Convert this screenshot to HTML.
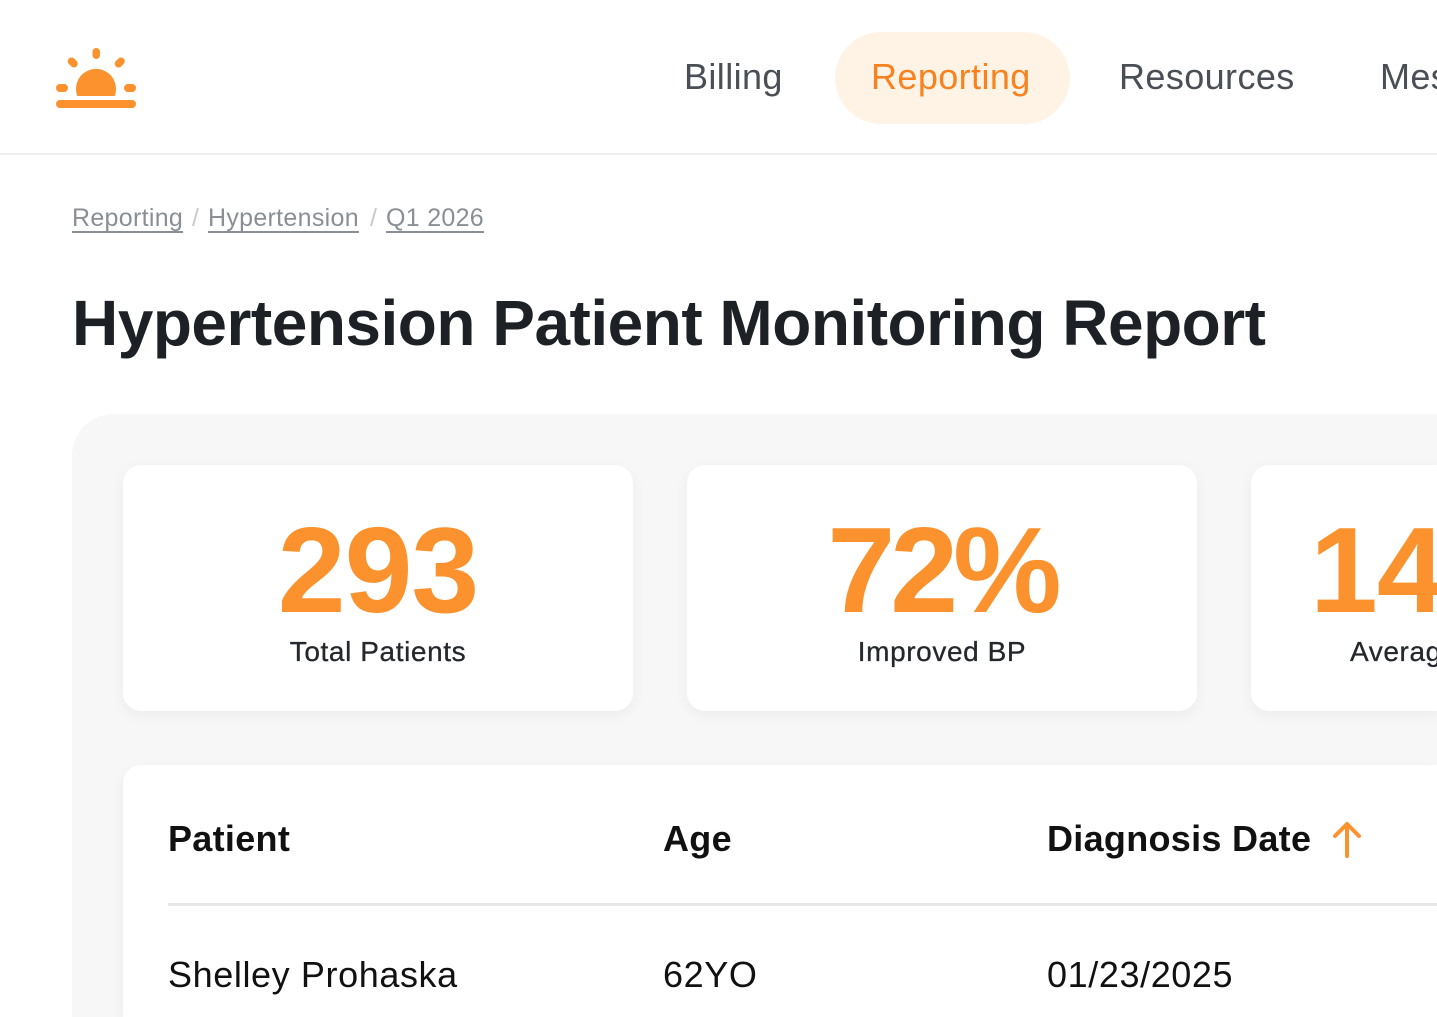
<!DOCTYPE html>
<html style="width:1437px;height:1017px;overflow:hidden"><head><style>
*{margin:0;padding:0;box-sizing:border-box}
body{width:1437px;height:1017px;overflow:hidden;background:#fff;font-family:"Liberation Sans",sans-serif;position:relative;color:#1f2226}
#w{position:absolute;left:0;top:0;width:1437px;height:1017px;overflow:hidden}
.a{position:absolute;white-space:nowrap}
.nav{font-size:36px;color:#4a4f55;top:56px;letter-spacing:0.4px}
.num{font-size:122px;font-weight:bold;color:#fb922d;letter-spacing:-1px;top:500px;width:510px;text-align:center}
.lab{font-size:28px;color:#24272b;top:636px;width:510px;text-align:center;letter-spacing:0.6px;-webkit-text-stroke:0.3px #24272b}
.card{position:absolute;top:465px;width:510px;height:246px;background:#fff;border-radius:18px;box-shadow:0 4px 14px rgba(0,0,0,0.05)}
.th{font-size:36px;font-weight:bold;top:818px;color:#111;letter-spacing:0.3px}
.td{font-size:36px;top:954px;color:#111;letter-spacing:0.6px}
.bc{font-size:25px;color:#8a8f95;text-decoration:underline;text-underline-offset:5px;top:204px;letter-spacing:0.3px}
</style></head><body><div id="w">
<svg class="a" style="left:54px;top:46px" width="84" height="64" viewBox="0 0 84 64">
<g fill="#fb922d">
<rect x="38.5" y="2" width="7.5" height="11" rx="3.7"/>
<rect x="15" y="11" width="7.5" height="11" rx="3.7" transform="rotate(-45 18.7 16.5)"/>
<rect x="62" y="11" width="7.5" height="11" rx="3.7" transform="rotate(45 65.7 16.5)"/>
<rect x="2" y="38" width="12" height="8" rx="4"/>
<rect x="70" y="38" width="12" height="8" rx="4"/>
<path d="M23.3 50 A20 20 0 1 1 60.7 50 Z"/>
<rect x="2" y="54" width="80" height="8" rx="4"/>
</g></svg>
<div class="a nav" style="left:684px">Billing</div>
<div class="a" style="left:835px;top:32px;width:235px;height:92px;border-radius:46px;background:#fff3e5"></div>
<div class="a nav" style="left:871px;color:#f7821f">Reporting</div>
<div class="a nav" style="left:1119px">Resources</div>
<div class="a nav" style="left:1380px">Messages</div>
<div class="a" style="left:0;top:153px;width:1437px;height:2px;background:#eeeff0"></div>
<div class="a bc" style="left:72px">Reporting</div>
<div class="a" style="left:192px;top:204px;font-size:25px;color:#c8cacd">/</div>
<div class="a bc" style="left:208px">Hypertension</div>
<div class="a" style="left:370px;top:204px;font-size:25px;color:#c8cacd">/</div>
<div class="a bc" style="left:386px">Q1 2026</div>
<div class="a" style="left:72px;top:286px;font-size:64px;font-weight:bold;color:#1d2024;letter-spacing:-0.5px">Hypertension Patient Monitoring Report</div>
<div class="a" style="left:72px;top:414px;width:1365px;height:603px;border-radius:42px 0 0 0;background:#f7f7f8"></div>
<div class="card" style="left:123px"></div>
<div class="card" style="left:687px"></div>
<div class="card" style="left:1251px;width:186px;border-radius:18px 0 0 18px"></div>
<div class="a num" style="left:123px">293</div>
<div class="a lab" style="left:123px">Total Patients</div>
<div class="a num" style="left:687px;letter-spacing:-5px">72%</div>
<div class="a lab" style="left:687px">Improved BP</div>
<div class="a num" style="left:1310px;width:127px;overflow:hidden;text-align:left">140</div>
<div class="a lab" style="left:1350px;width:87px;overflow:hidden;text-align:left">Average Systolic</div>
<div class="a" style="left:123px;top:765px;width:1314px;height:252px;background:#fff;border-radius:18px 0 0 0;box-shadow:0 4px 14px rgba(0,0,0,0.05)"></div>
<div class="a th" style="left:168px">Patient</div>
<div class="a th" style="left:663px">Age</div>
<div class="a th" style="left:1047px">Diagnosis Date</div>
<svg class="a" style="left:1331px;top:820px" width="34" height="38" viewBox="0 0 34 38"><path d="M16 36V4M4 16L16 4L28 16" stroke="#fb922d" stroke-width="4" fill="none" stroke-linecap="round" stroke-linejoin="round"/></svg>
<div class="a" style="left:168px;top:903px;width:1269px;height:3px;background:#e6e7e8"></div>
<div class="a td" style="left:168px">Shelley Prohaska</div>
<div class="a td" style="left:663px">62YO</div>
<div class="a td" style="left:1047px">01/23/2025</div>
</div></body></html>
